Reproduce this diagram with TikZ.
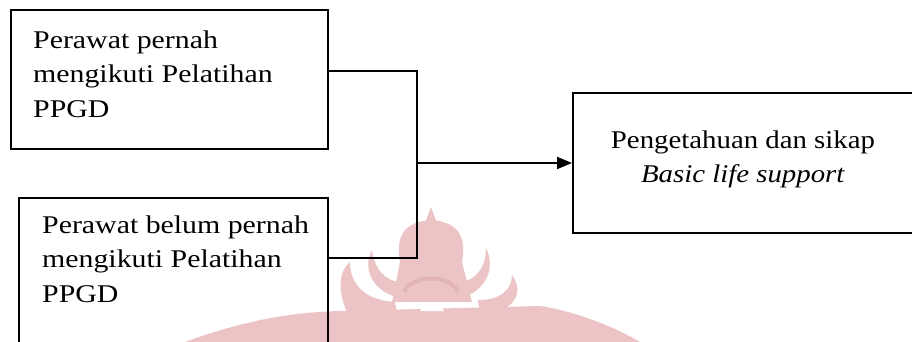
\documentclass[tikz,border=0pt]{standalone}
\usepackage{fontspec}
\setmainfont{Liberation Serif}[FakeStretch=1.13]
\newfontfamily\boxfont{Liberation Serif}[FakeStretch=1.17]
\usetikzlibrary{arrows.meta}
\definecolor{wm}{RGB}{236,196,198}
\definecolor{wmdark}{RGB}{226,180,184}
\begin{document}
\begin{tikzpicture}[x=1pt,y=-1pt,
  box/.style={draw, line width=2pt, rectangle, inner sep=0pt},
  txt/.style={inner sep=0pt, align=left, font=\fontsize{25.5}{34.5}\selectfont},
  btxt/.style={txt, font=\boxfont\fontsize{25.5}{34.5}\selectfont},
  conn/.style={line width=2pt},
  arr/.style={conn, -{Triangle[length=15pt,width=12pt]}}]
\useasboundingbox (0,0) rectangle (912,342);
% watermark (background logo)
\fill[wm] (185,342) .. controls (250,318) and (300,312) .. (340,311) -- (540,306)
  .. controls (580,312) and (620,330) .. (640,342) -- cycle;
\fill[wm] (400,262) .. controls (395,235) and (405,222) .. (431,220)
  .. controls (457,222) and (467,235) .. (462,262) -- (472,302) -- (392,302) -- cycle;
\fill[wm] (425,223) -- (431,207) -- (437,223) -- cycle;
\fill[wm] (350,318) .. controls (335,290) and (340,270) .. (350,262)
  .. controls (350,282) and (362,300) .. (395,302) -- (398,318) -- cycle;
\fill[wm] (372,250) .. controls (362,268) and (372,292) .. (400,298)
  -- (402,282) .. controls (385,282) and (374,268) .. (372,250) -- cycle;
\fill[wm] (486,248) .. controls (496,268) and (486,292) .. (460,298)
  -- (458,282) .. controls (475,282) and (486,268) .. (486,248) -- cycle;
\fill[wm] (512,275) .. controls (526,295) and (512,312) .. (480,316)
  -- (478,300) .. controls (500,300) and (512,290) .. (512,275) -- cycle;
\draw[wmdark, line width=4pt] (404,292) .. controls (412,274) and (450,274) .. (458,292);
\fill[white] (420,311) .. controls (424,302) and (440,302) .. (444,311) -- cycle;
% boxes
\node[box, minimum width=317pt, minimum height=139pt, anchor=north west] (b1) at (10,9) {};
\node[box, minimum width=309pt, minimum height=165pt, anchor=north west] (b2) at (18,197) {};
\node[box, minimum width=344pt, minimum height=140pt, anchor=north west] (b3) at (572,92) {};
% texts
\node[btxt, anchor=north west] (t1) at (33,30.6) {Perawat pernah\\mengikuti Pelatihan\\PPGD};
\node[btxt, anchor=north west] (t2) at (42,215.6) {Perawat belum pernah\\mengikuti Pelatihan\\PPGD};
\node[txt, anchor=north, align=center] (t3) at (743,130.6) {Pengetahuan dan sikap\\\textit{Basic life support}};
% connectors
\coordinate (j1) at (417,71);
\coordinate (j2) at (417,258);
\draw[conn] (b1.east |- j1) -- (j1) -- (j2) -- (b2.east |- j2);
\draw[arr] (j1 |- b3.west) -- (b3.west);
\end{tikzpicture}
\end{document}
